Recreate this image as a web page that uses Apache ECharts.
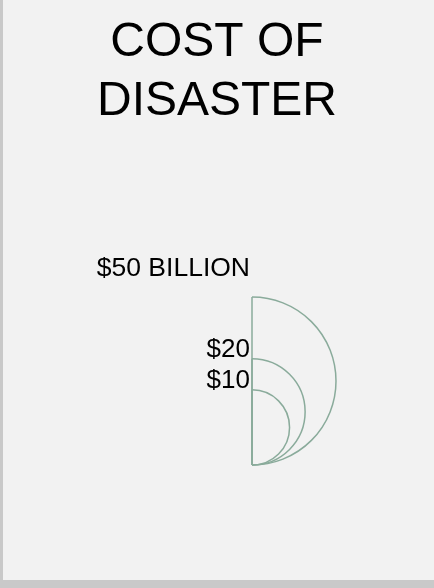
<!DOCTYPE html>
<html>
<head>
<meta charset="utf-8">
<script src="https://cdn.jsdelivr.net/npm/echarts@6/dist/echarts.min.js"></script>
<style>
html,body{margin:0;padding:0;background:#c9c9c9;}
#main{width:434px;height:588px;}
</style>
</head>
<body>
<div id="main"></div>
<script>
// Data
var titleLines = ['COST OF', 'DISASTER'];
var categories = ['$50 BILLION', '$20', '$10'];
var costs = [50, 20, 10]; // billions of dollars

var maxR = Math.sqrt(Math.max.apply(null, costs));
var chart = echarts.init(document.getElementById('main'));
var arcColor = '#8aab9b';

var option = {
  backgroundColor: 'transparent',
  animation: false,
  graphic: [
    { type: 'rect', left: 3, top: 0, shape: { width: 431, height: 580 }, style: { fill: '#f2f2f2' }, z: -10 },
    { type: 'text', left: 'center', top: 13, style: { text: titleLines.join('\n'), font: '48px "Liberation Sans", Arial, sans-serif', fill: '#000', textAlign: 'center', lineHeight: 59 } }
  ],
  grid: { left: 252, right: 98, top: 297, bottom: 123 },
  xAxis: { type: 'value', min: 0, max: maxR, show: false },
  yAxis: { type: 'value', min: 0, max: 2 * maxR, show: false },
  series: [{
    type: 'custom',
    coordinateSystem: 'cartesian2d',
    data: costs.map(function (v, i) { return [0, Math.sqrt(v), i]; }),
    renderItem: function (params, api) {
      var r = api.value(1);
      var idx = api.value(2);
      var bottom = api.coord([0, 0]);
      var center = api.coord([0, r]);
      var rp = bottom[1] - center[1];
      var topY = center[1] - rp;
      var labelBottom = idx === 0 ? topY - 19 : topY;
      return {
        type: 'group',
        children: [
          {
            type: 'arc',
            shape: { cx: center[0], cy: center[1], r: rp, startAngle: -Math.PI / 2, endAngle: Math.PI / 2, clockwise: true },
            style: { stroke: arcColor, lineWidth: 1.5, fill: null }
          },
          {
            type: 'line',
            shape: { x1: center[0], y1: topY, x2: center[0], y2: bottom[1] },
            style: { stroke: arcColor, lineWidth: 1.5 }
          },
          {
            type: 'text',
            x: center[0] - 2,
            y: labelBottom + 4,
            style: {
              text: categories[idx],
              font: (idx === 0 ? '26.5px' : '26px') + ' "Liberation Sans", Arial, sans-serif',
              fill: '#000',
              align: 'right',
              verticalAlign: 'bottom'
            }
          }
        ]
      };
    }
  }]
};
chart.setOption(option);
</script>
</body>
</html>
